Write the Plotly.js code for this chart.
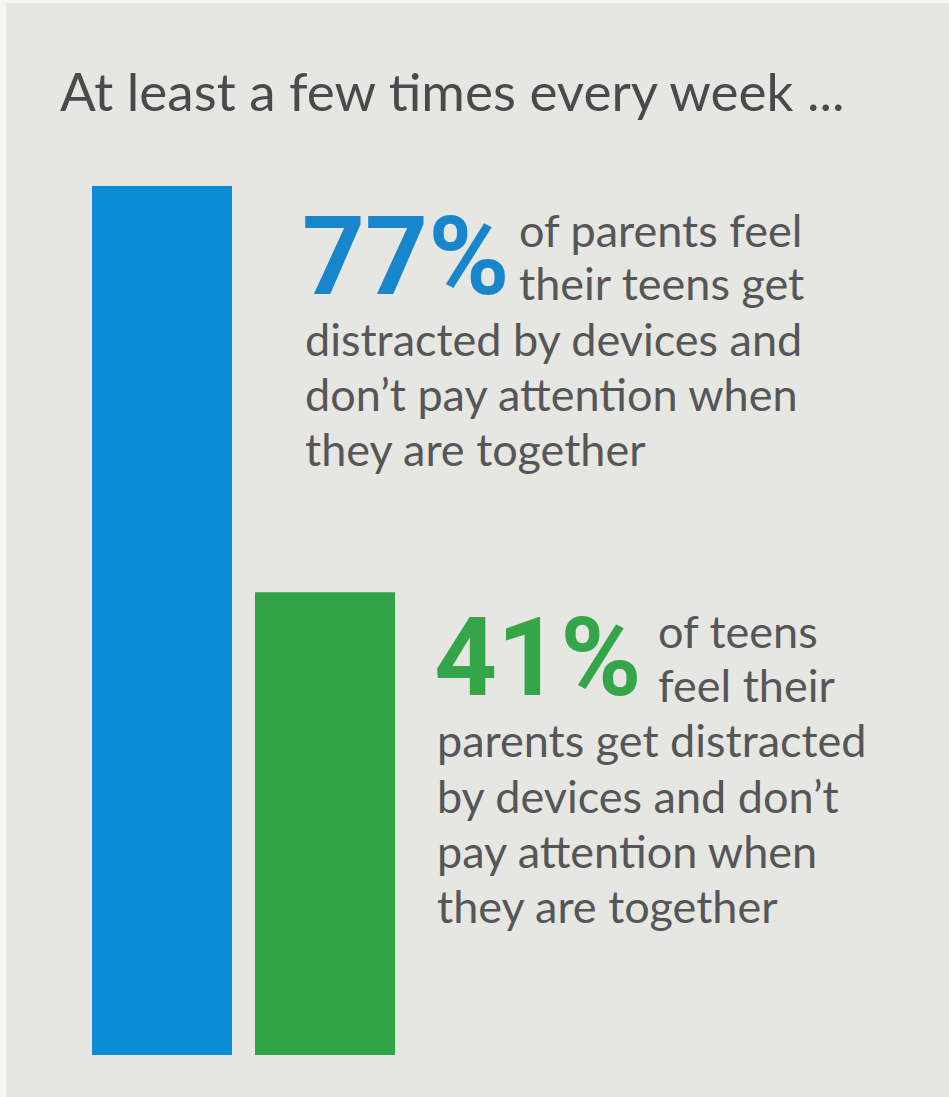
<!DOCTYPE html>
<html>
<head>
<meta charset="utf-8">
<script src="https://cdn.plot.ly/plotly-3.0.1.min.js"></script>
<style>html,body{margin:0;padding:0;background:#e6e6e3;}</style>
</head>
<body>
<div id="chart" style="width:949px;height:1097px;"></div>
<script>
// ---- data ----
const categories = ['Parents', 'Teens'];
const values = [77, 41];
const titleText = 'At least a few times every week ...';
const captionHead = [
  ['of parents feel', 'their teens get'],
  ['of teens', 'feel their']
];
const captionBody = [
  ['distracted by devices and', 'don\u2019t pay attention when', 'they are together'],
  ['parents get distracted', 'by devices and don\u2019t', 'pay attention when', 'they are together']
];

// ---- style ----
const W = 949, H = 1097;
const barColors = ['#0b8dd5', '#2fa346'];
const numColors = ['#1786cb', '#34a548'];
const textColor = '#565658';
const bodyFont = 'Lato, "Open Sans", sans-serif';
const numFont = 'Roboto, Lato, sans-serif';

const px = x => x / W;
const py = y => 1 - y / H;

const annotations = [];
function line(text, x, yCenter, size, color, family, weight, boxH) {
  const a = {
    text: text, xref: 'paper', yref: 'paper', x: px(x), y: py(yCenter),
    xanchor: 'left', yanchor: 'middle', showarrow: false, align: 'left',
    font: {family: family, size: size, color: color, weight: weight || 400}
  };
  if (boxH) { a.height = boxH; a.valign = 'middle'; }
  annotations.push(a);
}

// block layout (pixel anchors)
const blocks = [
  {numX: 300, numY: 256, headX: 517, headY: [230, 283], bodyX: 303, bodyY: [339, 394, 449]},
  {numX: 432, numY: 657, headX: 656, headY: [631, 685], bodyX: 435, bodyY: [740, 796, 851, 906]}
];
blocks.forEach((b, i) => {
  line(values[i] + '%', b.numX, b.numY, 110, numColors[i], numFont, 700, 92);
  captionHead[i].forEach((t, j) => line(t, b.headX, b.headY[j], 45, textColor, bodyFont));
  captionBody[i].forEach((t, j) => line(t, b.bodyX, b.bodyY[j], 45, textColor, bodyFont));
});

// y: 0 at pixel 1055, 77 at pixel 186
const yPerPx = 77 / (1055 - 186);
const yRange = [-(H - 1055) * yPerPx, 77 + 186 * yPerPx];
// x: category 0 centered at 162, category 1 at 325
const xPerPx = 1 / (325 - 162);
const xRange = [-162 * xPerPx, (W - 162) * xPerPx];

const trace = {
  type: 'bar', x: [0, 1], y: values, text: categories,
  marker: {color: barColors, line: {width: 0}},
  textposition: 'none', hoverinfo: 'none'
};

const layout = {
  width: W, height: H,
  margin: {l: 0, r: 0, t: 0, b: 0, pad: 0},
  paper_bgcolor: '#e6e6e3', plot_bgcolor: '#e6e6e3',
  bargap: 1 - 140 / 163,
  showlegend: false,
  title: {
    text: titleText, x: px(60), xanchor: 'left', xref: 'paper',
    y: py(92), yanchor: 'middle', yref: 'paper',
    font: {family: bodyFont, size: 53, color: '#4a4a4c'}
  },
  xaxis: {range: xRange, visible: false, fixedrange: true},
  yaxis: {range: yRange, visible: false, fixedrange: true},
  shapes: [
    {type: 'rect', xref: 'paper', yref: 'paper', x0: 0, x1: px(6), y0: 0, y1: 1, fillcolor: '#f7f7f6', line: {width: 0}, layer: 'below'},
    {type: 'rect', xref: 'paper', yref: 'paper', x0: 0, x1: 1, y0: py(3), y1: 1, fillcolor: '#f7f7f6', line: {width: 0}, layer: 'below'}
  ],
  annotations: annotations
};

Plotly.newPlot('chart', [trace], layout, {displayModeBar: false, staticPlot: true});
</script>
</body>
</html>
